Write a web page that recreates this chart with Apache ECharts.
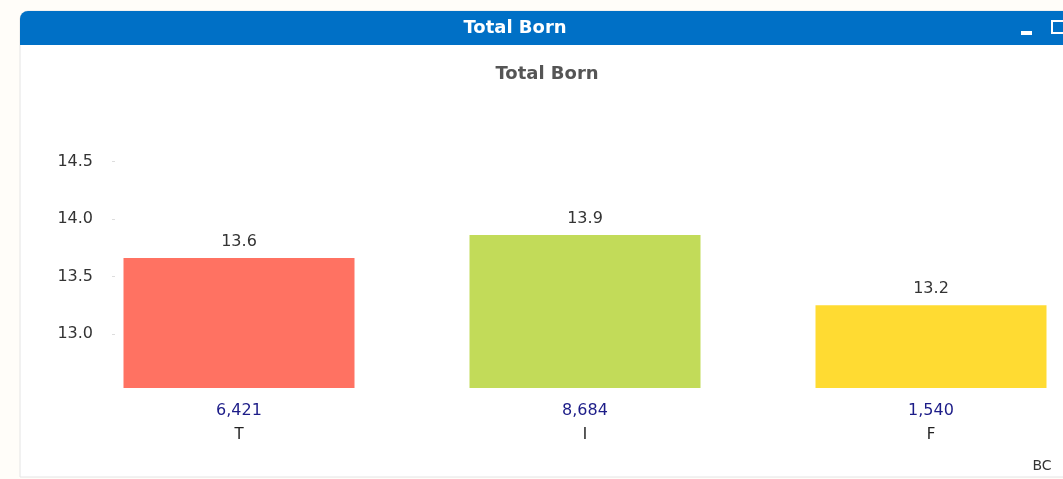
<!DOCTYPE html>
<html>
<head>
<meta charset="utf-8">
<script src="https://cdn.jsdelivr.net/npm/echarts@6/dist/echarts.min.js"></script>
<style>
  html, body { margin: 0; padding: 0; background: #fffdf9; }
  #chart { width: 1063px; height: 479px; }
</style>
</head>
<body>
<div id="chart"></div>
<script>
const categories = ['T', 'I', 'F']
const avgBorn = [13.66, 13.86, 13.25]
const avgLabels = ['13.6', '13.9', '13.2']
const counts = ['6,421', '8,684', '1,540']
const barColors = ['#ff7262', '#c2db59', '#ffdb32']
const yTicks = [13.0, 13.5, 14.0, 14.5]

const echart = echarts.init(document.getElementById('chart'))
const option = {
    animation: false,
    backgroundColor: '#fffdf9',
    graphic: [
        // panel body
        { type: 'rect', shape: { x: 20, y: 11, width: 1080, height: 466, r: [8, 8, 0, 0] },
          style: { fill: '#ffffff', stroke: '#e4e4e4', lineWidth: 1 }, z: -10 },
        // blue caption bar
        { type: 'rect', shape: { x: 20, y: 11, width: 1080, height: 34, r: [8, 8, 0, 0] },
          style: { fill: '#0070c6' }, z: -9 },
        { type: 'text', z: -8,
          style: { text: 'Total Born', fill: '#ffffff', font: 'bold 18px "DejaVu Sans"', x: 515, y: 28, textAlign: 'center', textVerticalAlign: 'middle' } },
        // minimize / restore icons
        { type: 'rect', shape: { x: 1021, y: 31, width: 11, height: 4 }, style: { fill: '#ffffff' }, z: -8 },
        { type: 'rect', shape: { x: 1052, y: 21, width: 14, height: 12 },
          style: { fill: 'none', stroke: '#ffffff', lineWidth: 2 }, z: -8 },
        { type: 'text', z: -8, style: { text: 'BC', x: 1042, y: 466, fill: '#333', font: '14px "DejaVu Sans"', textAlign: 'center', textVerticalAlign: 'middle' } },
        // chart title
        { type: 'text', z: -8, style: { text: 'Total Born', x: 547, y: 74, fill: '#555555', font: 'bold 18px "DejaVu Sans"', textAlign: 'center', textVerticalAlign: 'middle' } }
    ],
    grid: {
        left: 66,
        top: 150,
        height: 238,
        width: 1038,
        containLabel: false,
        outerBoundsMode: 'none'
    },
    xAxis: {
        type: 'category',
        data: categories,
        axisLine: { show: false },
        axisTick: { show: false },
        axisLabel: {
            margin: 10,
            formatter: (v, i) => '{n|' + counts[i] + '}\n{c|' + v + '}',
            rich: {
                n: { color: '#1c1c88', fontFamily: 'DejaVu Sans', fontSize: 16, lineHeight: 25 },
                c: { color: '#222222', fontFamily: 'DejaVu Sans', fontSize: 15, lineHeight: 25 }
            }
        }
    },
    yAxis: {
        type: 'value',
        min: 12.53,
        max: 14.6,
        offset: -49,
        splitLine: { show: false },
        axisLine: { show: false },
        axisTick: { show: true, length: 3, customValues: yTicks, lineStyle: { color: '#dddddd' } },
        axisLabel: {
            customValues: yTicks,
            margin: 22,
            color: '#333333',
            fontFamily: 'DejaVu Sans',
            fontSize: 16,
            formatter: v => v.toFixed(1)
        }
    },
    series: [{
        type: 'bar',
        barWidth: 231,
        data: avgBorn.map((v, i) => ({ value: v, itemStyle: { color: barColors[i] } })),
        label: {
            show: true,
            position: 'top',
            distance: 8,
            color: '#333333',
            fontFamily: 'DejaVu Sans',
            fontSize: 16,
            formatter: p => avgLabels[p.dataIndex]
        }
    }]
}
echart.setOption(option)
window.addEventListener('resize', () => {
    echart.resize()
})
</script>
</body>
</html>
